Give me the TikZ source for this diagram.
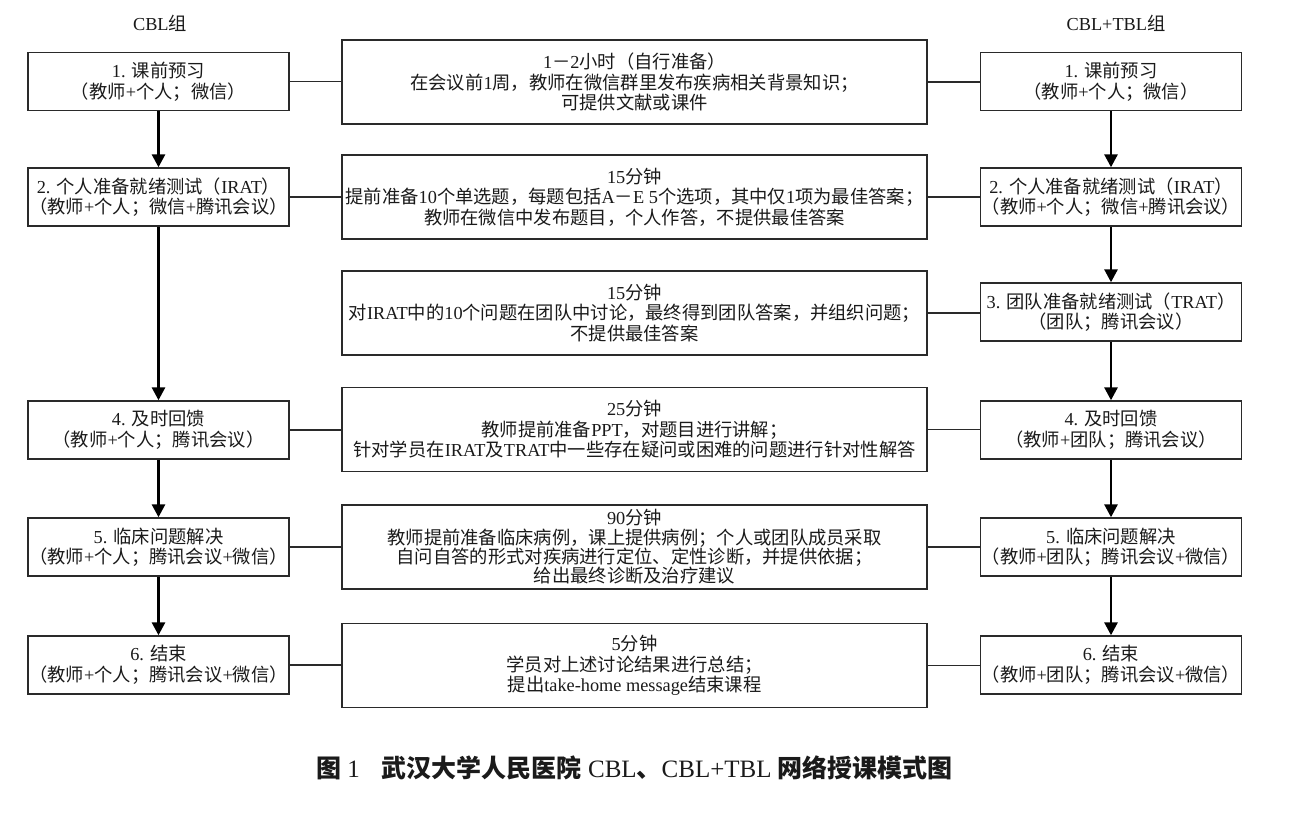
\documentclass[tikz,border=0pt]{standalone}
\usepackage{fontspec}
\usetikzlibrary{arrows.meta}
\setmainfont{Liberation Serif}
\newfontfamily\cjkfont{Noto Sans CJK SC}
\XeTeXinterchartokenstate=1
\newXeTeXintercharclass\cjkclass
\newcount\cjkc
\def\setcjkrange#1#2{\cjkc=#1\relax\loop\XeTeXcharclass\cjkc=\cjkclass\relax\ifnum\cjkc<#2\relax\advance\cjkc by 1\relax\repeat}
\setcjkrange{"4E00}{"9FFF}
\setcjkrange{"3000}{"303F}
\setcjkrange{"FF00}{"FFEF}
\def\cjkswitch{\cjkfont}
\def\latinswitch{\rmfamily}
\XeTeXinterchartoks 0 \cjkclass = {\cjkswitch}
\XeTeXinterchartoks 4095 \cjkclass = {\cjkswitch}
\XeTeXinterchartoks \cjkclass 0 = {\latinswitch}
\XeTeXinterchartoks \cjkclass 4095 = {\latinswitch}
\definecolor{ink}{HTML}{1A1A1A}
\definecolor{frame}{HTML}{2A2A2A}
\begin{document}
\begin{tikzpicture}[x=1pt,y=-1pt,
  txt/.style={font=\fontsize{18.3}{20.5}\selectfont, text=ink, align=center, inner sep=0pt},
  sidebox/.style={txt, draw=frame, line width=1.4pt, minimum width=261pt, minimum height=58pt},
  midbox/.style={txt, draw=frame, line width=1.4pt, minimum width=585pt, minimum height=84pt},
  conn/.style={draw=frame, line width=1.3pt},
  arr/.style={draw=black, line width=2.8pt, -{Triangle[length=13pt,width=13pt]}}
]
\useasboundingbox[fill=white] (0,0) rectangle (1300,815);

% headers
\node[txt] (hl) at (160,23) {CBL组};
\node[txt] (hr) at (1116,23) {CBL+TBL组};

% left column
\node[sidebox] (l1) at (158.5,81.5) {1. 课前预习\\（教师+个人；微信）};
\node[sidebox] (l2) at (158.5,197) {2. 个人准备就绪测试（IRAT）\\（教师+个人；微信+腾讯会议）};
\node[sidebox] (l4) at (158.5,430) {4. 及时回馈\\（教师+个人；腾讯会议）};
\node[sidebox] (l5) at (158.5,547) {5. 临床问题解决\\（教师+个人；腾讯会议+微信）};
\node[sidebox] (l6) at (158.5,665) {6. 结束\\（教师+个人；腾讯会议+微信）};

% right column
\node[sidebox] (r1) at (1111,81.5) {1. 课前预习\\（教师+个人；微信）};
\node[sidebox] (r2) at (1111,197) {2. 个人准备就绪测试（IRAT）\\（教师+个人；微信+腾讯会议）};
\node[sidebox] (r3) at (1111,312) {3. 团队准备就绪测试（TRAT）\\（团队；腾讯会议）};
\node[sidebox] (r4) at (1111,430) {4. 及时回馈\\（教师+团队；腾讯会议）};
\node[sidebox] (r5) at (1111,547) {5. 临床问题解决\\（教师+团队；腾讯会议+微信）};
\node[sidebox] (r6) at (1111,665) {6. 结束\\（教师+团队；腾讯会议+微信）};

% middle column
\node[midbox] (m1) at (634.5,82) {1－2小时（自行准备）\\在会议前1周，教师在微信群里发布疾病相关背景知识；\\可提供文献或课件};
\node[midbox] (m2) at (634.5,197) {15分钟\\提前准备10个单选题，每题包括A－E 5个选项，其中仅1项为最佳答案；\\教师在微信中发布题目，个人作答，不提供最佳答案};
\node[midbox] (m3) at (634.5,313) {15分钟\\对IRAT中的10个问题在团队中讨论，最终得到团队答案，并组织问题；\\不提供最佳答案};
\node[midbox] (m4) at (634.5,429.5) {25分钟\\教师提前准备PPT，对题目进行讲解；\\针对学员在IRAT及TRAT中一些存在疑问或困难的问题进行针对性解答};
\node[midbox, font=\fontsize{18.3}{19.3}\selectfont] (m5) at (634.5,547) {90分钟\\教师提前准备临床病例，课上提供病例；个人或团队成员采取\\自问自答的形式对疾病进行定位、定性诊断，并提供依据；\\给出最终诊断及治疗建议};
\node[midbox] (m6) at (634.5,665.5) {5分钟\\学员对上述讨论结果进行总结；\\提出take-home message结束课程};

% horizontal connectors
\draw[conn] (l1.east) -- (l1.east -| m1.west);
\draw[conn] (m1.east) -- (m1.east -| r1.west);
\draw[conn] (l2.east) -- (l2.east -| m2.west);
\draw[conn] (m2.east) -- (m2.east -| r2.west);
\draw[conn] (m3.east) -- (m3.east -| r3.west);
\draw[conn] (l4.east) -- (l4.east -| m4.west);
\draw[conn] (m4.east) -- (m4.east -| r4.west);
\draw[conn] (l5.east) -- (l5.east -| m5.west);
\draw[conn] (m5.east) -- (m5.east -| r5.west);
\draw[conn] (l6.east) -- (l6.east -| m6.west);
\draw[conn] (m6.east) -- (m6.east -| r6.west);

% vertical arrows
\draw[arr] (l1.south) -- (l2.north);
\draw[arr] (l2.south) -- (l4.north);
\draw[arr] (l4.south) -- (l5.north);
\draw[arr] (l5.south) -- (l6.north);
\draw[arr] (r1.south) -- (r2.north);
\draw[arr] (r2.south) -- (r3.north);
\draw[arr] (r3.south) -- (r4.north);
\draw[arr] (r4.south) -- (r5.north);
\draw[arr] (r5.south) -- (r6.north);

% caption
\node[inner sep=0pt, text=ink, font=\fontsize{25}{29}\selectfont] (cap) at (634.5,768)
  {\def\cjkswitch{\cjkfont\bfseries}\def\latinswitch{\rmfamily\mdseries}图 1\hspace{22pt}武汉大学人民医院 CBL、CBL+TBL 网络授课模式图};
\end{tikzpicture}
\end{document}
